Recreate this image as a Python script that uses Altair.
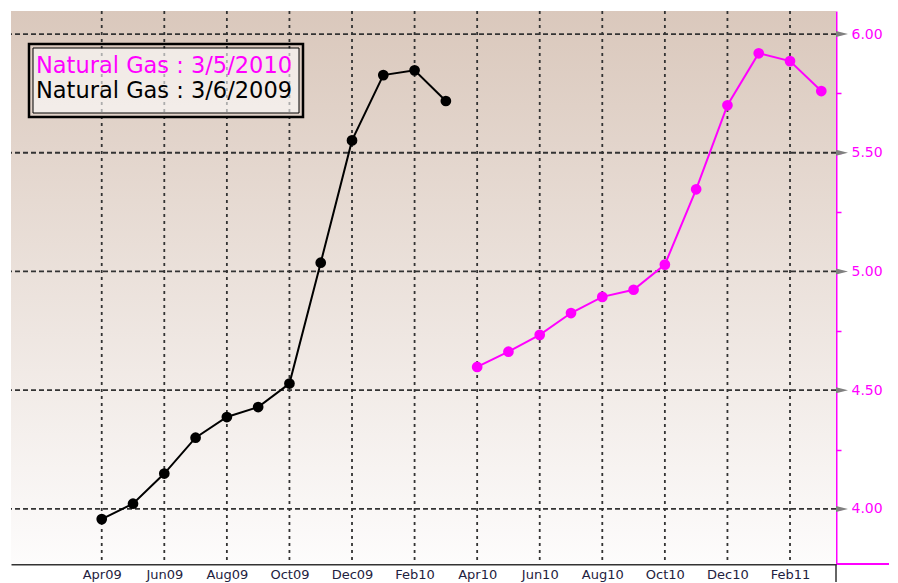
import altair as alt
import pandas as pd

# ---------------- data ----------------
months = ["Apr09", "May09", "Jun09", "Jul09", "Aug09", "Sep09", "Oct09", "Nov09",
          "Dec09", "Jan10", "Feb10", "Mar10", "Apr10", "May10", "Jun10", "Jul10",
          "Aug10", "Sep10", "Oct10", "Nov10", "Dec10", "Jan11", "Feb11", "Mar11"]
series_names = ["Natural Gas : 3/5/2010", "Natural Gas : 3/6/2009"]
series_colors = ["#ff00ff", "#000000"]

curve_2009 = [3.957, 4.022, 4.149, 4.300, 4.387, 4.429, 4.528, 5.037,
              5.552, 5.827, 5.847, 5.718]          # Apr09 .. Mar10
curve_2010 = [4.598, 4.662, 4.733, 4.825, 4.893, 4.923, 5.029, 5.346,
              5.700, 5.919, 5.886, 5.760]          # Apr10 .. Mar11

x_tick_idx = list(range(0, 24, 2))                 # Apr09, Jun09, ... Feb11
y_major = [4.0, 4.5, 5.0, 5.5, 6.0]
y_all_ticks = [4.0, 4.25, 4.5, 4.75, 5.0, 5.25, 5.5, 5.75, 6.0]

rows = []
for i, v in enumerate(curve_2009):
    rows.append({"m": i, "value": v, "series": series_names[1]})
for i, v in enumerate(curve_2010):
    rows.append({"m": 12 + i, "value": v, "series": series_names[0]})
df = pd.DataFrame(rows)

# ---------------- layout ----------------
W, H = 825, 553
FONT = "DejaVu Sans"
xs = alt.Scale(domain=[-2.9, 23.47], nice=False, zero=False)
ys = alt.Scale(domain=[3.768, 6.097], nice=False, zero=False)
color_scale = alt.Scale(domain=series_names, range=series_colors)

label_expr = "[" + ",".join("'%s'" % m for m in months) + "][datum.value]"

x_axis = alt.Axis(values=x_tick_idx, labelExpr=label_expr, grid=False,
                  tickSize=0, domainColor="#333333", domainWidth=2,
                  labelFont=FONT, labelFontSize=13, labelColor="#1e2240",
                  labelPadding=4, labelFlush=False, title=None)
y_axis = alt.Axis(orient="right", values=y_all_ticks, grid=False,
                  labelExpr="datum.value % 0.5 == 0 ? format(datum.value, '.2f') : ''",
                  domainColor="#ff00ff", domainWidth=2,
                  tickColor="#ff00ff", tickSize=5, tickWidth=1.5,
                  labelColor="#ff00ff", labelFont=FONT, labelFontSize=14,
                  labelPadding=10, title=None)

one = pd.DataFrame({"k": [0]})

background = alt.Chart(one).mark_rect(
    color=alt.LinearGradient(
        gradient="linear", x1=0, x2=0, y1=0, y2=1,
        stops=[alt.GradientStop(color="#dac8bc", offset=0),
               alt.GradientStop(color="#fdfcfc", offset=1)])
).encode(x=alt.value(0), x2=alt.value(W), y=alt.value(0), y2=alt.value(H))

vgrid = alt.Chart(pd.DataFrame({"m": x_tick_idx})).mark_rule(
    color="#333333", strokeWidth=1.8, strokeDash=[3, 4]
).encode(x=alt.X("m:Q", scale=xs, axis=x_axis))

hgrid = alt.Chart(pd.DataFrame({"value": y_major})).mark_rule(
    color="#333333", strokeWidth=1.8, strokeDash=[5, 3]
).encode(y=alt.Y("value:Q", scale=ys, axis=y_axis))

legend_outer = alt.Chart(one).mark_rect(
    fill=None, stroke="#000", strokeWidth=2.5
).encode(x=alt.value(18), x2=alt.value(292), y=alt.value(33), y2=alt.value(106))

legend_inner = alt.Chart(one).mark_rect(
    fill="#ffffff", fillOpacity=0.6, stroke="#000", strokeWidth=1
).encode(x=alt.value(22), x2=alt.value(288), y=alt.value(37), y2=alt.value(102))

legend_t1 = alt.Chart(one).mark_text(
    text=series_names[0], color=series_colors[0], font=FONT, fontSize=22.5,
    align="left", baseline="alphabetic"
).encode(x=alt.value(25), y=alt.value(62))

legend_t2 = alt.Chart(one).mark_text(
    text=series_names[1], color=series_colors[1], font=FONT, fontSize=22.5,
    align="left", baseline="alphabetic"
).encode(x=alt.value(25), y=alt.value(87))

lines = alt.Chart(df).mark_line(strokeWidth=2).encode(
    x=alt.X("m:Q", scale=xs, axis=x_axis),
    y=alt.Y("value:Q", scale=ys, axis=y_axis),
    color=alt.Color("series:N", scale=color_scale, legend=None),
    detail="series:N")

points = alt.Chart(df).mark_point(filled=True, size=115, opacity=1).encode(
    x=alt.X("m:Q", scale=xs, axis=x_axis),
    y=alt.Y("value:Q", scale=ys, axis=y_axis),
    color=alt.Color("series:N", scale=color_scale, legend=None))

arrows = alt.Chart(pd.DataFrame({"value": y_major})).mark_point(
    shape="M-1,-0.5L1,0L-1,0.5Z", filled=True, color="#808080", size=144, opacity=1
).encode(x=alt.value(W + 6), y=alt.Y("value:Q", scale=ys, axis=y_axis))

mag_ext = alt.Chart(one).mark_rule(color="#ff00ff", strokeWidth=2).encode(
    x=alt.value(W), x2=alt.value(W + 53), y=alt.value(H))
blk_ext = alt.Chart(one).mark_rule(color="#333333", strokeWidth=1.5).encode(
    x=alt.value(W), y=alt.value(H), y2=alt.value(H + 18))

chart = alt.layer(
    background, vgrid, hgrid, legend_inner, legend_outer, legend_t1, legend_t2,
    lines, points, arrows, mag_ext, blk_ext
).properties(
    width=W, height=H,
    padding={"left": 2, "top": 2, "right": 0, "bottom": 0},
    background="#ffffff"
).configure_view(stroke=None)

chart.save("out.html", embed_options={"renderer": "svg", "actions": False})
